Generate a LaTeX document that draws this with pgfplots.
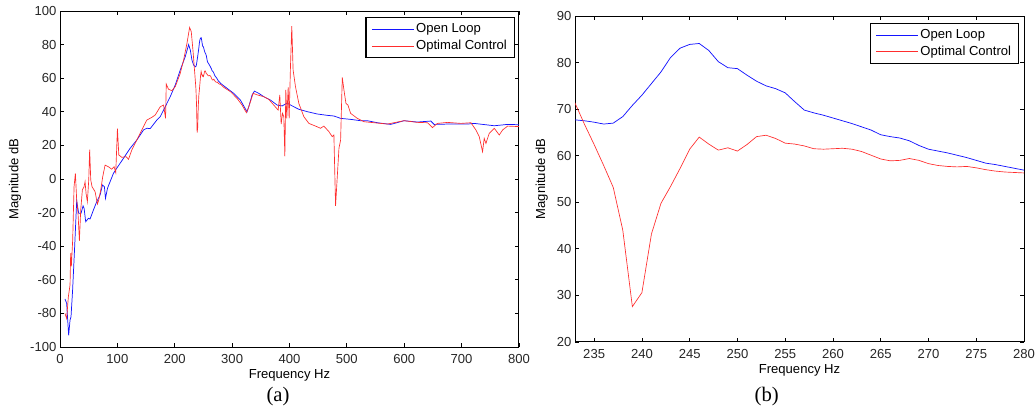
\documentclass[border=0pt]{standalone}
\usepackage{pgfplots}
\pgfplotsset{compat=1.18}
\usepackage{pgfplotstable}
\usepackage{fontspec}
\setmainfont{Liberation Sans}
\newfontfamily\timesfont{Liberation Serif}
\definecolor{olblue}{RGB}{20,20,255}
\definecolor{ocred}{RGB}{255,45,45}

% open loop response (Hz, dB)
\pgfplotstableread{
f db
8.7 -71.4
11.6 -74
15.1 -93
17.5 -84
19.2 -82
22 -66
25.6 -40
29.1 -13
32.6 -20.4
36.7 -20.4
40.2 -16
42 -17.5
44.8 -25.4
49.5 -23.4
52.4 -23.8
58.2 -18.5
64 -13.5
69.9 -9.5
74 -3.6
77.4 -4.6
79.3 -11.5
82.7 -5.6
87.3 -1.6
93.2 3.4
100.7 7.3
110.6 12.3
122.3 18.3
133.9 23.2
145.6 29.2
151.4 30.2
157.2 30
168.8 35.1
174.7 37.1
183.4 43
192.1 49
200.9 56
209.6 64.9
218.3 72.8
224.2 80
227.1 76.8
230 70.8
233 67.7
234 67.5
235 67.2
236 66.8
237 67.0
238 68.4
239 70.8
240 73.0
241 75.5
242 78.0
243 81.1
244 83.1
245 83.9
246 84.1
247 82.6
248 80.2
249 78.9
250 78.7
251 77.3
252 76.0
253 75.0
254 74.4
255 73.5
256 71.6
257 69.8
258 69.2
259 68.7
260 68.1
261 67.5
262 66.9
263 66.2
264 65.5
265 64.5
266 64.1
267 63.8
268 63.2
269 62.2
270 61.4
271 61.0
272 60.6
273 60.1
274 59.6
275 59.0
276 58.4
277 58.1
278 57.7
279 57.3
280 56.9
291.1 54
302.8 51
314.4 47
326 40
329 43
334.8 50
338.9 52.3
346.4 51
355.2 49
366.8 47
378.5 44
387.2 43.5
395.9 45.2
404.7 43.5
416.3 41.5
430.9 40.1
448.3 38.7
465.8 37.9
477.4 37.5
489.1 36.1
506.5 35.5
524 34.7
535.7 34.7
553.1 33.5
576.4 32.5
599.7 34.7
623 33.9
646.3 34.5
652.1 32.5
675.4 32.7
710.3 32.7
721.9 33.1
756.9 31.7
780.2 32.5
800 32.3
}\openloop

% optimal control response (Hz, dB)
\pgfplotstableread{
f db
8.7 -80
11.6 -83
14.6 -70
17.5 -63
18.6 -44.2
19.8 -52
22.1 -36.3
24.5 -4.6
26.8 3.4
29.1 -12.5
31.4 -20.4
33.8 -36.8
36.1 -18.5
39 -6.5
41.9 -4.6
43.7 -1.6
45.4 -8.5
47.7 -13.5
50.1 -0.6
51.7 17.5
53.6 -0.6
55.9 -4.6
61.1 -7.5
65.2 -14.9
67.5 -12.5
71 -6.5
74.5 1.4
78.6 8.3
84.4 7.3
90.2 5.8
94.3 7.3
97.2 3.8
100.1 30
102.5 14.3
107.7 12.9
115.3 13.3
119.4 11.7
125.2 17.3
133.9 23.2
145.6 31.2
151.4 35.1
160.1 36.7
166 38.1
174.7 43
180.5 44
184 36.1
185.2 56.5
189.2 53.4
195.1 52.6
200.9 55
209.6 62.9
215.4 70.8
221.3 80.8
225.9 90.2
228.8 87.7
231.7 76.8
233 71.3
234 66.7
235 62.4
236 57.9
237 53.2
238 44
239 27.6
240 30.6
241 43.2
242 49.8
243 53.4
244 57.3
245 61.4
246 64.0
247 62.5
248 61.2
249 61.7
250 61.0
251 62.4
252 64.1
253 64.4
254 63.7
255 62.7
256 62.5
257 62.1
258 61.5
259 61.4
260 61.5
261 61.6
262 61.4
263 60.9
264 60.1
265 59.3
266 58.9
267 59.0
268 59.4
269 59.0
270 58.3
271 57.9
272 57.7
273 57.6
274 57.7
275 57.4
276 57.0
277 56.7
278 56.5
279 56.4
280 56.3
285.3 54.6
297 52
308.6 48
317.3 44
324.9 39.5
329 42.9
336.6 51
343.5 50.1
355.2 49
363.9 47.4
372.6 44
380.2 41
383.1 50
385.5 32.7
387.8 39.1
390.1 37.1
391.9 13.5
393.6 53
395.3 36.1
397.7 54.6
399.4 36.1
401.7 66.9
404 91
406.3 64.9
410.4 55
416.3 45
425 37.1
433.8 33.1
445.4 31.5
454.1 30.2
459.9 31.5
468.7 28.2
474.5 25.2
477.4 26.2
480.3 -16
483.3 1.4
486.2 18.3
489.1 23.2
492 60.5
494.9 53
498.4 45
501.9 44
506.5 39.1
518.2 36.1
529.8 34.1
547.3 33.5
570.5 32.7
599.7 34.7
623 33.7
640.5 33.5
649.2 30.6
657.9 33.1
675.4 33.7
698.7 33.1
716.2 33.5
724.9 29.2
730.7 25.2
736.5 16.3
739.4 24.2
742.4 21.2
748.2 27.2
756.9 30.2
765.6 26.2
771.5 29.2
780.2 31.5
800 31.2
}\optimal

\pgfplotsset{
  mlab/.style={
    scale only axis,
    axis line style={black, line width=0.75pt},
    major tick length=3pt,
    tick style={black, line width=0.6pt},
    tick label style={font=\fontsize{9.8}{11}\selectfont, text=black!85},
    label style={font=\fontsize{9.8}{11}\selectfont},
    /pgf/number format/assume math mode=true,
    /pgf/number format/1000 sep={},
    xticklabel style={anchor=center, yshift=-9pt},
    yticklabel style={inner xsep=2.5pt},
    xlabel={Frequency Hz}, ylabel={Magnitude dB},
    xlabel style={at={(axis description cs:0.5,0)}, anchor=center, yshift=-21pt},
    legend cell align=left,
    legend style={anchor=north east, draw=black, line width=0.9pt,
      font=\fontsize{9.8}{11}\selectfont, inner xsep=4pt, inner ysep=2.6pt,
      nodes={inner xsep=1.5pt, inner ysep=2pt}},
    legend image code/.code={\draw[#1, line width=0.55pt] (0pt,0pt) -- (31.5pt,0pt);},
  },
}

\begin{document}
\begin{tikzpicture}
\path[use as bounding box] (0,0) rectangle (776.25pt,309pt);

\begin{axis}[mlab,
  at={(45pt,48.75pt)}, anchor=south west,
  width=344.25pt, height=252pt,
  xmin=0, xmax=800, ymin=-100, ymax=100,
  xtick={0,100,...,800}, ytick={-100,-80,...,100},
  ylabel style={at={(axis description cs:-0.098,0.5)}, anchor=center},
  legend style={at={(0.991,0.982)}},
]
  \addplot[olblue, line width=0.55pt] table[x=f, y=db] {\openloop};
  \addplot[ocred, line width=0.5pt] table[x=f, y=db] {\optimal};
  \legend{Open Loop, Optimal Control}
\end{axis}

\begin{axis}[mlab,
  at={(431.25pt,52.5pt)}, anchor=south west,
  width=336.75pt, height=244.5pt,
  xmin=233, xmax=280, ymin=20, ymax=90,
  xtick={235,240,...,280}, ytick={20,30,...,90},
  ylabel style={at={(axis description cs:-0.074,0.5)}, anchor=center},
  legend style={at={(0.989,0.979)}},
]
  \addplot[olblue, line width=0.55pt] table[x=f, y=db] {\openloop};
  \addplot[ocred, line width=0.5pt] table[x=f, y=db] {\optimal};
  \legend{Open Loop, Optimal Control}
\end{axis}

\node[font=\timesfont\fontsize{15.5}{17}\selectfont] at (208.5pt,11.25pt) {(a)};
\node[font=\timesfont\fontsize{15.5}{17}\selectfont] at (575pt,11.25pt) {(b)};
\end{tikzpicture}
\end{document}
